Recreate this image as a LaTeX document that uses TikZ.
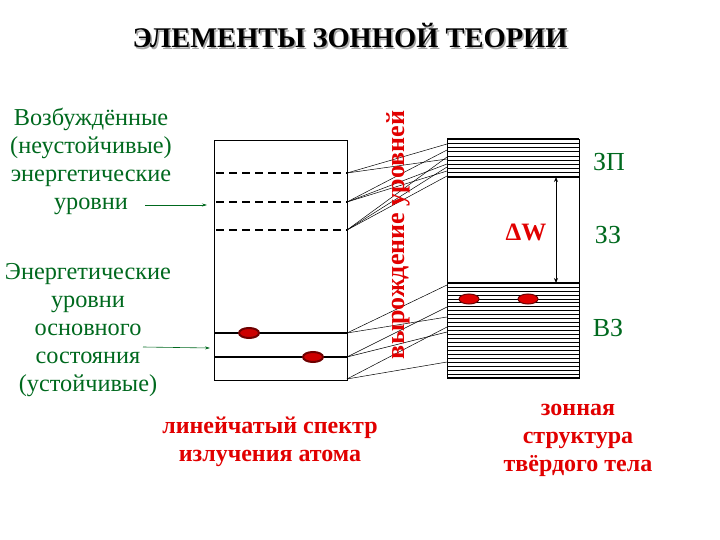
\documentclass[tikz,border=0pt]{standalone}
\usepackage{fontspec}
\setmainfont{Liberation Serif}
\newfontfamily\tms{Liberation Serif}
\usetikzlibrary{shapes.geometric,arrows.meta}
\definecolor{tgreen}{RGB}{0,105,30}
\definecolor{tred}{RGB}{225,0,0}
\definecolor{dred}{RGB}{110,0,0}
\tikzset{
  gtext/.style={text=tgreen, align=center, font=\tms\fontsize{24.3}{28}\selectfont, inner sep=0},
  rtext/.style={text=tred, align=center, font=\tms\fontsize{24}{28}\selectfont\bfseries, inner sep=0},
  zlabel/.style={text=tgreen, font=\tms\fontsize{26}{28}\selectfont, inner sep=0},
  level/.style={line width=1.6pt},
  dlevel/.style={line width=2.2pt, dash pattern=on 8pt off 5pt},
  conn/.style={line width=0.5pt},
  band/.style={line width=0.6pt},
  bandedge/.style={line width=2.2pt},
  electron/.style={ellipse, draw=dred, line width=1pt, fill=tred, minimum width=20pt, minimum height=10pt, inner sep=0},
  aelectron/.style={electron, line width=2pt, fill=red!80!black},
  pointer/.style={tgreen, line width=0.6pt, -{Stealth[length=5pt,width=3pt]}}
}
\begin{document}
\begin{tikzpicture}[x=1pt,y=-1pt]
\useasboundingbox (0,0) rectangle (720,540);
% title
\node[text=black!35, font=\tms\fontsize{28.5}{30}\selectfont\bfseries, inner sep=0] (titleshadow) at (351.5,37.5) {ЭЛЕМЕНТЫ ЗОННОЙ ТЕОРИИ};
\node[font=\tms\fontsize{28.5}{30}\selectfont\bfseries, inner sep=0] (title) at (350,36) {ЭЛЕМЕНТЫ ЗОННОЙ ТЕОРИИ};

% left box (atom)
\node[draw, line width=0.8pt, minimum width=133pt, minimum height=240pt, inner sep=0, anchor=north west] (lbox) at (214,140) {};
\foreach \y [count=\i] in {173,202,230} {
  \coordinate (dl\i) at (216,\y);
  \coordinate (dr\i) at (347,\y);
  \draw[dlevel] (dl\i) -- (dr\i);
}
\coordinate (sl1) at (214,333); \coordinate (sr1) at (347,333);
\coordinate (sl2) at (214,357); \coordinate (sr2) at (347,357);
\draw[level] (sl1) -- (sr1);
\draw[level] (sl2) -- (sr2);
\node[aelectron] (ea1) at (249,333) {};
\node[aelectron] (ea2) at (313,357) {};

% right box (solid)
\node[draw, line width=1.2pt, minimum width=132pt, minimum height=239pt, inner sep=0, anchor=north west] (rbox) at (447,139) {};
\foreach \k in {1,...,8} {
  \draw[band] (447,{139+\k*38/9}) -- (579,{139+\k*38/9});
}
\foreach \k in {1,...,23} {
  \draw[band] (447,{283+\k*95/24}) -- (579,{283+\k*95/24});
}
\coordinate (cbl) at (447,177); \coordinate (cbr) at (579,177);
\coordinate (vbl) at (447,283); \coordinate (vbr) at (579,283);
\draw[bandedge] (447,139) -- (579,139);
\draw[bandedge] (cbl) -- (cbr);
\draw[bandedge] (vbl) -- (vbr);
\draw[bandedge] (447,378) -- (579,378);
\node[electron] (eb1) at (469,299) {};
\node[electron] (eb2) at (528,299) {};

% gap arrow
\coordinate (gtop) at (556,177);
\coordinate (gbot) at (556,283);
\draw[line width=1pt, {Stealth[length=5pt,width=4pt]}-{Stealth[length=5pt,width=4pt]}] (gtop) -- (gbot);
\node[text=tred, font=\tms\fontsize{25}{26}\selectfont\bfseries, inner sep=0] (dw) at (526,232) {ΔW};

% connectors (degeneracy)
\foreach \a/\b [count=\i] in {173/144,173/159,202/150,202/164,202/171,230/157,230/167,230/176,333/285,333/317,357/307,357/332,379/327,379/362} {
  \coordinate (ca\i) at (347,\a);
  \coordinate (cb\i) at (447,\b);
  \draw[conn] (ca\i) -- (cb\i);
}

% vertical label
\node[text=tred, rotate=90, font=\tms\fontsize{26}{28}\selectfont\bfseries, inner sep=0] (degen) at (398,235) {вырождение уровней};

% zone labels
\node[zlabel] (zp) at (609,162) {ЗП};
\node[zlabel] (zz) at (608,235) {ЗЗ};
\node[zlabel] (vz) at (608,328) {ВЗ};

% left texts
\node[gtext] (exc) at (91,161) {Возбуждённые\\(неустойчивые)\\энергетические\\уровни};
\node[gtext] (gnd) at (88,330) {Энергетические\\уровни\\основного\\состояния\\(устойчивые)};
\coordinate (p1s) at (145,205); \coordinate (p1e) at (207,205);
\coordinate (p2s) at (143,347); \coordinate (p2e) at (210,348);
\draw[pointer] (p1s) -- (p1e);
\draw[pointer] (p2s) -- (p2e);

% bottom captions
\node[rtext] (cap1) at (270,442) {линейчатый спектр\\излучения атома};
\node[rtext] (cap2) at (578,440) {зонная\\структура\\твёрдого тела};
\end{tikzpicture}
\end{document}
